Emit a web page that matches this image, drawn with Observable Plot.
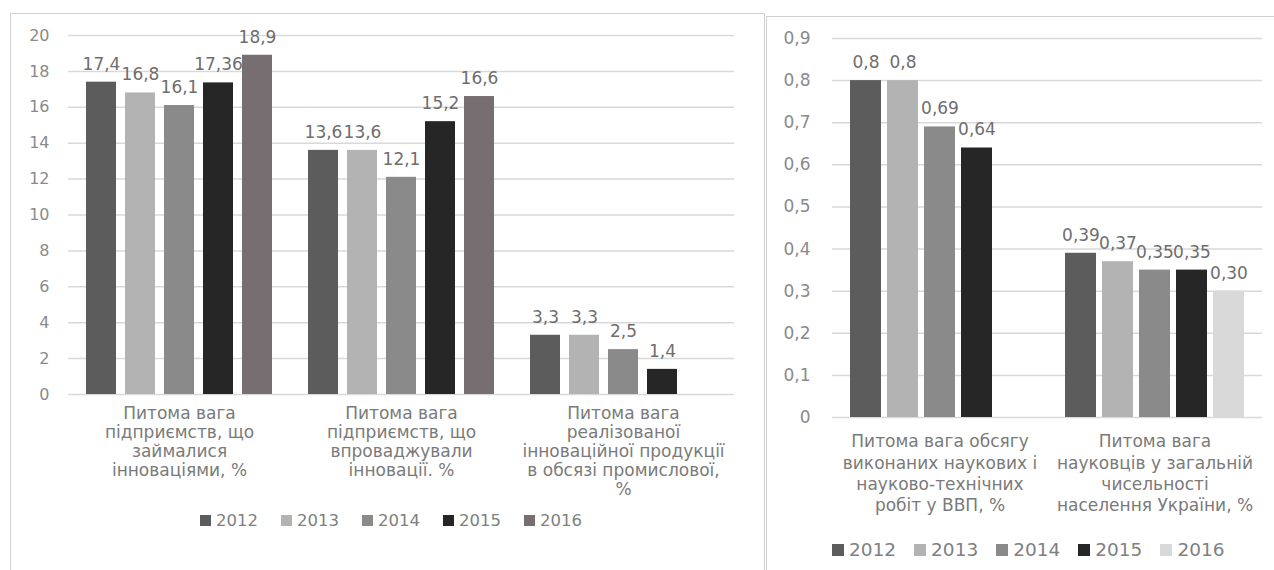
<!DOCTYPE html>
<html>
<head>
<meta charset="utf-8">
<script src="https://cdn.jsdelivr.net/npm/d3@7"></script>
<script src="https://cdn.jsdelivr.net/npm/@observablehq/plot@0.6"></script>
<style>
  html, body { margin: 0; padding: 0; background: #fff; }
  body { position: relative; width: 1274px; height: 570px; overflow: hidden; font-family: "DejaVu Sans", sans-serif; }
  .box { position: absolute; border: 1px solid #d0d0d0; background: #fff; }
  .chart { position: absolute; }
  .legend { position: absolute; }
  .legend .lg-swatches { margin: 0 !important; min-height: 0 !important; font-family: "DejaVu Sans", sans-serif !important; color: #808080; }
  .legend .lg-swatch { margin-right: 0 !important; }
  .legend .lg-swatch > svg { margin-right: 5px !important; }
  #leftLegend { left: 200px; top: 511px; }
  #leftLegend .lg-swatches { font-size: 16.5px !important; }
  #leftLegend .lg-swatch { margin-right: 23px !important; }
  #rightLegend { left: 832px; top: 539px; }
  #rightLegend .lg-swatches { font-size: 18.5px !important; }
  #rightLegend .lg-swatch { margin-right: 18px !important; }
</style>
</head>
<body>
<div class="box" style="left:10px;top:13px;width:753px;height:600px"></div>
<div class="box" style="left:766px;top:16px;width:520px;height:600px"></div>
<div class="chart" id="left" style="left:10px;top:13px"></div>
<div class="chart" id="right" style="left:768px;top:16px"></div>
<div class="legend" id="leftLegend"></div>
<div class="legend" id="rightLegend"></div>
<script>
const years = ["2012", "2013", "2014", "2015", "2016"];

// Innovation activity of industrial enterprises
const innovCategories = [
  "Питома вага\nпідприємств, що\nзаймалися\nінноваціями, %",
  "Питома вага\nпідприємств, що\nвпроваджували\nінновації. %",
  "Питома вага\nреалізованої\nінноваційної продукції\nв обсязі промислової,\n%"
];
const innov2012 = ["17,4", "13,6", "3,3"];
const innov2013 = ["16,8", "13,6", "3,3"];
const innov2014 = ["16,1", "12,1", "2,5"];
const innov2015 = ["17,36", "15,2", "1,4"];
const innov2016 = ["18,9", "16,6", null];
const innovTicks = [0, 2, 4, 6, 8, 10, 12, 14, 16, 18, 20];
const innovColors = ["#5c5c5c", "#b3b3b3", "#8a8a8a", "#262626", "#766e70"];

// Science indicators
const sciCategories = [
  "Питома вага обсягу\nвиконаних наукових і\nнауково-технічних\nробіт у ВВП, %",
  "Питома вага\nнауковців у загальній\nчисельності\nнаселення України, %"
];
const sci2012 = ["0,8", "0,39"];
const sci2013 = ["0,8", "0,37"];
const sci2014 = ["0,69", "0,35"];
const sci2015 = ["0,64", "0,35"];
const sci2016 = [null, "0,30"];
const sciTicks = [0, 0.1, 0.2, 0.3, 0.4, 0.5, 0.6, 0.7, 0.8, 0.9];
const sciColors = ["#5c5c5c", "#b3b3b3", "#8a8a8a", "#262626", "#d9d9d9"];

// Labels use a decimal comma; the bar value is parsed from the same label.
const parseComma = s => +s.replace(",", ".");
const formatComma = d => String(d).replace(".", ",");

function toRows(categories, series) {
  return series.flatMap((labels, i) =>
    labels.map((label, j) => label == null ? null :
      {category: categories[j], year: years[i], label, value: parseComma(label)})
  ).filter(Boolean);
}

function groupedBars({categories, rows, ticks, colors, width, height, margins, yMax, paddingInner, paddingOuter, tickPadding, tickFontSize, labelDy, lineHeight}) {
  return Plot.plot({
    width, height,
    marginLeft: margins[0], marginRight: margins[1], marginTop: margins[2], marginBottom: margins[3],
    style: {fontFamily: "DejaVu Sans, sans-serif", fontSize: "17px", background: "transparent", overflow: "visible"},
    fx: {domain: categories, padding: 0, axis: null, label: null},
    x: {domain: years, paddingInner, paddingOuter, axis: null},
    y: {domain: [0, yMax], axis: null},
    color: {domain: years, range: colors},
    marks: [
      Plot.ruleY(ticks, {stroke: "#d9d9d9", strokeWidth: 1.5}),
      Plot.axisY(ticks, {tickSize: 0, tickPadding, tickFormat: formatComma, fill: "#8a8a8a", fontSize: tickFontSize, label: null}),
      Plot.barY(rows, {fx: "category", x: "year", y: "value", fill: "year"}),
      Plot.text(rows, {fx: "category", x: "year", y: "value", text: "label", dy: -18, fill: "#6e6e6e", fontSize: 17}),
      Plot.text(categories, {fx: d => d, text: d => d, frameAnchor: "bottom", lineAnchor: "top", dy: labelDy, lineHeight, fill: "#7a7a7a", fontSize: 17})
    ]
  });
}

const innovRows = toRows(innovCategories, [innov2012, innov2013, innov2014, innov2015, innov2016]);
document.getElementById("left").append(groupedBars({
  categories: innovCategories, rows: innovRows, ticks: innovTicks, colors: innovColors,
  width: 755, height: 520, margins: [57, 30, 22, 139], yMax: 20,
  paddingInner: 0.22, paddingOuter: 0.42, tickPadding: 19, tickFontSize: 16,
  labelDy: 11, lineHeight: 1.12
}));

const sciRows = toRows(sciCategories, [sci2012, sci2013, sci2014, sci2015, sci2016]);
document.getElementById("right").append(groupedBars({
  categories: sciCategories, rows: sciRows, ticks: sciTicks, colors: sciColors,
  width: 506, height: 520, margins: [64, 12, 22, 119], yMax: 0.9,
  paddingInner: 0.17, paddingOuter: 0.414, tickPadding: 22, tickFontSize: 17,
  labelDy: 15, lineHeight: 1.24
}));

document.getElementById("leftLegend").append(Plot.legend({
  legend: "swatches", className: "lg", swatchSize: 11,
  color: {domain: years, range: innovColors}
}));
document.getElementById("rightLegend").append(Plot.legend({
  legend: "swatches", className: "lg", swatchSize: 12,
  color: {domain: years, range: sciColors}
}));
</script>
</body>
</html>
